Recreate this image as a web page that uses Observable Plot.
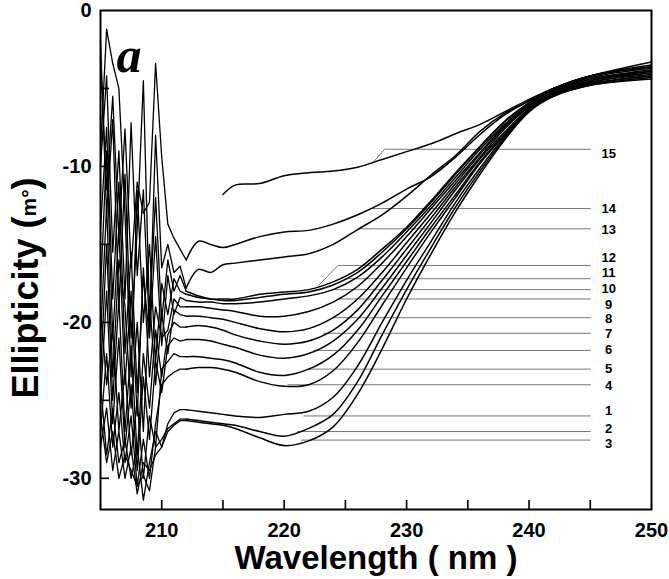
<!DOCTYPE html>
<html><head><meta charset="utf-8">
<script src="https://cdn.jsdelivr.net/npm/d3@7"></script>
<script src="https://cdn.jsdelivr.net/npm/@observablehq/plot@0.6"></script>
<style>body{margin:0;background:#fff}#chart svg{display:block}</style>
</head><body><div id="chart"></div>
<script>
// wavelength grids (nm)
const W_NOISE = [205,205.5,206,206.5,207,207.5,208,208.5,209,209.5,210,210.5,211,211.5];
const W_SMOOTH = [212,213,214,215,216,218,220,222,224,226,228,230,232,234,236,238,240,242,245,250];

// noisy low-wavelength part of each spectrum (ellipticity, mdeg)
const N14 = [-3.0,-11.5,-5.5,-14.5,-7.6,-16.5,-11.0,-13.0,-12.3,-3.4,-9.4,-13.7,-14.6,-15.3];
const N13 = [-10.0,-4.2,-15.5,-9.0,-18.5,-7.2,-17.0,-11.5,-20.5,-8.0,-16.5,-15.0,-16.8,-16.4];
const N12 = [-2.0,-13.0,-7.0,-19.0,-10.5,-21.0,-14.0,-4.5,-19.5,-12.0,-19.8,-16.0,-18.0,-17.0];
const N11 = [-9.0,-1.2,-3.4,-5.0,-13.0,-23.5,-11.5,-20.0,-15.0,-22.5,-17.5,-19.5,-17.2,-18.0];
const N10 = [-14.0,-7.5,-18.5,-11.0,-22.0,-15.5,-24.5,-17.0,-21.0,-14.5,-21.5,-17.0,-19.5,-18.4];
const N9  = [-18.0,-9.0,-21.0,-14.0,-24.0,-18.0,-26.0,-16.5,-23.5,-19.0,-21.0,-20.5,-18.5,-19.0];
const N8  = [-21.0,-12.5,-23.5,-16.0,-19.0,-25.5,-20.0,-27.0,-18.5,-24.0,-19.5,-22.0,-19.2,-19.5];
const N7  = [-23.5,-15.0,-25.0,-18.5,-27.0,-21.5,-28.5,-22.0,-25.5,-20.5,-23.5,-20.8,-20.0,-20.3];
const N6  = [-25.0,-18.0,-26.5,-21.0,-28.0,-24.0,-29.5,-23.5,-27.5,-22.5,-24.5,-21.5,-21.0,-21.2];
const N5  = [-19.0,-24.0,-20.5,-27.0,-23.0,-28.5,-25.0,-30.0,-26.0,-28.0,-23.0,-22.5,-22.0,-22.2];
const N4  = [-27.0,-22.0,-28.0,-24.5,-29.0,-26.0,-30.5,-27.5,-30.0,-26.5,-24.0,-23.5,-23.2,-23.0];
const N1  = [-24.0,-28.5,-25.5,-29.0,-27.5,-30.0,-28.0,-31.4,-29.0,-27.0,-28.0,-26.5,-25.8,-25.6];
const N2  = [-26.0,-29.0,-27.0,-30.0,-28.5,-29.5,-30.5,-29.8,-30.8,-28.0,-27.5,-26.8,-26.5,-26.2];
const N3  = [-28.0,-25.5,-29.5,-27.0,-30.0,-28.0,-31.0,-29.0,-29.5,-28.5,-28.0,-27.0,-26.6,-26.3];

// smooth part of each spectrum, on W_SMOOTH
const S15 = [null,null,null,-11.8,-11.2,-11.1,-10.6,-10.4,-10.3,-10.05,-9.55,-9.05,-8.55,-7.9,-7.3,-6.5,-5.7,-5.0,-4.2,-3.3];
const S14 = [-16.0,-14.8,-15.0,-15.2,-15.0,-14.5,-14.2,-14.1,-13.7,-13.1,-12.35,-11.45,-10.65,-9.4,-7.95,-6.7,-5.8,-5.0,-4.2,-3.5];
const S13 = [-17.8,-16.6,-16.8,-16.3,-16.2,-16.0,-15.8,-15.6,-15.0,-14.05,-13.1,-11.9,-10.55,-9.3,-7.75,-6.6,-5.8,-5.0,-4.2,-3.6];
const S12 = [-18.0,-18.3,-18.5,-18.5,-18.5,-18.2,-18.05,-17.9,-17.4,-16.6,-15.3,-13.9,-12.2,-10.4,-8.7,-7.1,-5.9,-5.0,-4.2,-3.6];
const S11 = [-18.2,-18.4,-18.5,-18.6,-18.6,-18.4,-18.2,-18.05,-17.6,-16.8,-15.5,-14.0,-12.3,-10.5,-8.75,-7.15,-5.95,-5.1,-4.3,-3.7];
const S10 = [-18.6,-18.7,-18.7,-18.8,-18.8,-18.7,-18.5,-18.3,-17.9,-17.1,-15.8,-14.2,-12.5,-10.7,-8.9,-7.3,-6.0,-5.1,-4.4,-3.8];
const S9  = [-19.0,-19.0,-19.1,-19.2,-19.3,-19.6,-19.6,-19.3,-18.7,-17.7,-16.2,-14.5,-12.7,-10.9,-9.1,-7.4,-6.1,-5.2,-4.4,-3.9];
const S8  = [-19.6,-19.6,-19.7,-19.8,-20.0,-20.4,-20.6,-20.4,-19.7,-18.5,-16.8,-14.9,-13.0,-11.1,-9.2,-7.5,-6.1,-5.2,-4.5,-3.9];
const S7  = [-20.3,-20.2,-20.3,-20.5,-20.8,-21.2,-21.4,-21.2,-20.5,-19.2,-17.3,-15.3,-13.3,-11.3,-9.4,-7.6,-6.2,-5.3,-4.5,-4.0];
const S6  = [-21.1,-21.1,-21.2,-21.4,-21.6,-22.1,-22.3,-22.0,-21.2,-19.8,-17.8,-15.7,-13.6,-11.5,-9.5,-7.8,-6.3,-5.3,-4.6,-4.0];
const S5  = [-22.2,-22.2,-22.3,-22.4,-22.6,-23.2,-23.4,-23.0,-22.1,-20.5,-18.3,-16.1,-13.9,-11.8,-9.7,-7.9,-6.3,-5.4,-4.6,-4.1];
const S4  = [-23.0,-22.9,-22.9,-23.0,-23.2,-23.8,-24.1,-24.0,-23.1,-21.3,-18.9,-16.5,-14.2,-12.0,-9.8,-8.0,-6.4,-5.4,-4.7,-4.2];
const S1  = [-25.6,-25.7,-25.8,-25.9,-26.0,-26.1,-25.9,-25.7,-24.8,-22.8,-20.0,-17.3,-14.8,-12.3,-10.1,-8.1,-6.4,-5.4,-4.7,-4.2];
const S2  = [-26.2,-26.3,-26.4,-26.5,-26.6,-27.0,-27.3,-26.8,-25.9,-23.8,-20.8,-17.9,-15.2,-12.6,-10.3,-8.2,-6.4,-5.5,-4.8,-4.3];
const S3  = [-26.3,-26.4,-26.5,-26.6,-26.8,-27.4,-27.9,-27.6,-26.7,-24.6,-21.7,-18.5,-15.6,-12.9,-10.5,-8.3,-6.5,-5.5,-4.8,-4.4];

// curve labels and leader lines
const LABELS    = ["15","14","13","12","11","10","9","8","7","6","5","4","1","2","3"];
const LABEL_Y   = [-9.16,-12.7,-14.05,-15.85,-16.85,-17.85,-18.85,-19.8,-20.75,-21.75,-23.0,-24.1,-25.65,-26.85,-27.8];
const LEADER_Y  = [-8.9,-12.7,-14.0,-16.35,-17.2,-17.9,-18.5,-19.7,-20.7,-21.8,-23.0,-24.0,-26.0,-27.0,-27.55];
const LEADER_X0 = [228.2,227.1,226.1,224.4,225.0,224.0,224.4,224.0,223.2,222.4,221.9,220.3,221.6,221.1,221.4];
const KINK_X    = [227.2,null,null,222.8,null,null,null,null,null,null,null,null,null,null,null];
const KINK_Y    = [-9.8,null,null,-17.65,null,null,null,null,null,null,null,null,null,null,null];
const LEADER_END = 245.0;
const LABEL_X = 246.5;

// axes
const X_LABELS = [210,220,230,240,250];
const X_TICKS  = [210,215,220,225,230,235,240,245];
const Y_LABELS = [0,-10,-20,-30];
const Y_TICKS  = [-5,-10,-15,-20,-25,-30];
const X_DOMAIN = [205,250];
const Y_DOMAIN = [-32,0];

const curves = [
  ["1",N1,S1],["2",N2,S2],["3",N3,S3],["4",N4,S4],["5",N5,S5],["6",N6,S6],["7",N7,S7],
  ["8",N8,S8],["9",N9,S9],["10",N10,S10],["11",N11,S11],["12",N12,S12],["13",N13,S13],
  ["14",N14,S14],["15",null,S15]
];
const noiseRows = [], smoothRows = [];
for (const [id, n, s] of curves) {
  if (n) {
    n.forEach((v, i) => noiseRows.push({id, x: W_NOISE[i], y: v}));
    noiseRows.push({id, x: W_SMOOTH[0], y: s[0]});
  }
  s.forEach((v, i) => { if (v != null) smoothRows.push({id, x: W_SMOOTH[i], y: v}); });
}
const leaderRows = [];
LABELS.forEach((id, i) => {
  if (KINK_X[i] != null) leaderRows.push({id, x: KINK_X[i], y: KINK_Y[i]});
  leaderRows.push({id, x: LEADER_X0[i], y: LEADER_Y[i]});
  leaderRows.push({id, x: LEADER_END, y: LEADER_Y[i]});
});
const labelRows = LABELS.map((t, i) => ({t, y: LABEL_Y[i]}));

const W = 669, H = 579, ML = 100, MR = 18, MT = 10, MB = 70;
const font = "'Liberation Sans', Arial, Helvetica, sans-serif";

const chart = Plot.plot({
  width: W, height: H,
  marginLeft: ML, marginRight: MR, marginTop: MT, marginBottom: MB,
  x: {domain: X_DOMAIN},
  y: {domain: Y_DOMAIN},
  style: {fontFamily: font, background: "#fff", color: "#000", overflow: "visible"},
  marks: [
    Plot.line(leaderRows, {x: "x", y: "y", z: "id", stroke: "#666", strokeWidth: 0.9}),
    Plot.line(noiseRows, {x: "x", y: "y", z: "id", stroke: "#000", strokeWidth: 1.3, curve: "linear"}),
    Plot.line(smoothRows, {x: "x", y: "y", z: "id", stroke: "#000", strokeWidth: 1.5, curve: "catmull-rom"}),
    Plot.text(labelRows, {x: () => LABEL_X, y: "y", text: "t", fontSize: 13, fontWeight: "bold", textAnchor: "middle"}),
    Plot.text(["a"], {x: () => 206.3, y: () => -2.9, textAnchor: "start", fontSize: 50, fontWeight: "bold", fontStyle: "italic", fontFamily: "'Liberation Serif', 'Times New Roman', serif"}),
    Plot.ruleX(X_TICKS, {x: d => d, insetTop: (H - MT - MB) - 9, strokeWidth: 1.6}),
    Plot.ruleY(Y_TICKS, {y: d => d, insetRight: (W - ML - MR) - 9, strokeWidth: 1.6}),
    Plot.axisX(X_LABELS, {tickSize: 0, tickPadding: 13, fontSize: 20, fontWeight: "bold", label: null, tickFormat: d => String(d)}),
    Plot.axisY(Y_LABELS, {tickSize: 0, tickPadding: 9, fontSize: 20, fontWeight: "bold", label: null, tickFormat: d => String(d)}),
    Plot.text(["Wavelength ( nm )"], {frameAnchor: "bottom", dy: 49, fontSize: 33, fontWeight: "bold", lineAnchor: "middle", textAnchor: "middle"}),
    Plot.text(["Ellipticity (m°)"], {frameAnchor: "left", dx: -74, dy: 28, rotate: -90, fontSize: 36, fontWeight: "bold", lineAnchor: "middle", textAnchor: "middle"}),
    Plot.frame({stroke: "#000", strokeWidth: 2})
  ]
});
document.getElementById("chart").appendChild(chart);
// smaller "m°" inside the y title
d3.select(chart).selectAll("text").filter(function(){ return this.textContent === "Ellipticity (m°)"; })
  .each(function(){
    const t = d3.select(this); t.text(null);
    t.append("tspan").text("Ellipticity (");
    t.append("tspan").attr("font-size", "21").attr("dy", "-2").text("m°");
    t.append("tspan").attr("dy", "2").text(")");
  });
</script>
</body></html>
